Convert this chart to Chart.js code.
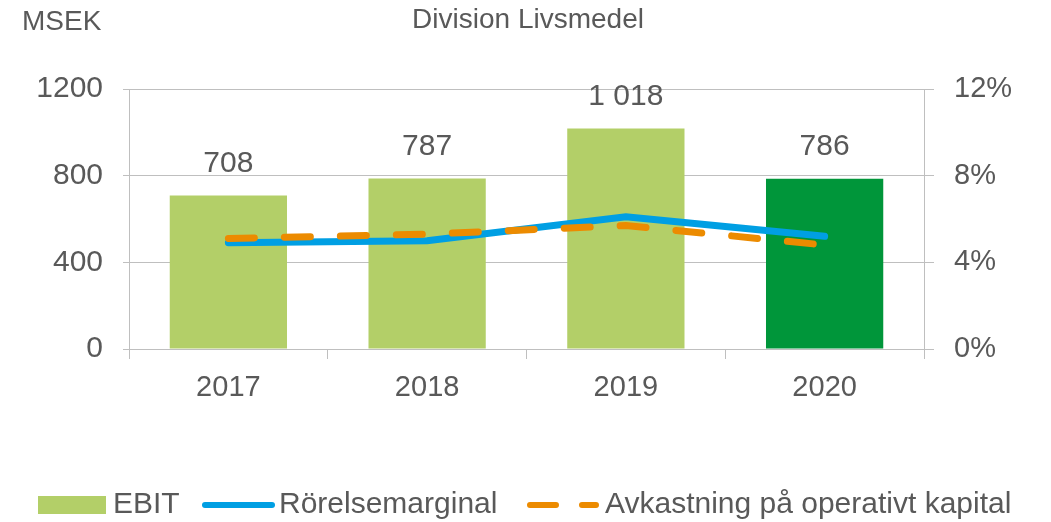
<!DOCTYPE html>
<html>
<head>
<meta charset="utf-8">
<script src="https://cdn.jsdelivr.net/npm/chart.js@4.4.1/dist/chart.umd.min.js"></script>
<style>
    html, body { margin: 0; padding: 0; background: #fff; }
    #wrap { width: 1051px; height: 522px; }
</style>
</head>
<body>
<div id="wrap"><canvas id="chart" width="1051" height="522"></canvas></div>
<script>
const years = ["2017", "2018", "2019", "2020"];
const ebit = [708, 787, 1018, 786];
const rorelsemarginal = [4.9, 5.0, 6.1, 5.2];
const avkastning = [5.1, 5.3, 5.7, 4.8];
const leftTicks = [0, 400, 800, 1200];
const rightTicks = [0, 4, 8, 12];

const textColor = "#595959";
const gridColor = "#bfbfbf";
const lightGreen = "#b3cf68";
const darkGreen = "#00963a";
const blue = "#009fe3";
const orange = "#ec8b00";
const fontFamily = "'Liberation Sans', Arial, sans-serif";

function formatThousands(v) {
    return String(v).replace(/\B(?=(\d{3})+(?!\d))/g, " ");
}

// value labels above the bars (bars are dataset 2)
const barLabels = {
    id: "barLabels",
    afterDatasetsDraw(chart) {
        const ctx = chart.ctx;
        const meta = chart.getDatasetMeta(2);
        ctx.save();
        ctx.font = `30px ${fontFamily}`;
        ctx.fillStyle = textColor;
        ctx.textAlign = "center";
        ctx.textBaseline = "bottom";
        meta.data.forEach((bar, i) => {
            ctx.fillText(formatThousands(ebit[i]), bar.x, bar.y - 17);
        });
        ctx.restore();
    }
};

// title, unit and legend
const decorations = {
    id: "decorations",
    afterDraw(chart) {
        const ctx = chart.ctx;
        ctx.save();
        ctx.fillStyle = textColor;
        ctx.textBaseline = "middle";
        ctx.font = `28px ${fontFamily}`;
        ctx.textAlign = "left";
        ctx.fillText("MSEK", 22, 22);
        ctx.textAlign = "center";
        ctx.fillText("Division Livsmedel", 528, 20);

        const ly = 505;
        ctx.font = `30px ${fontFamily}`;
        ctx.textAlign = "left";
        ctx.fillStyle = lightGreen;
        ctx.fillRect(38, 496, 68, 18);
        ctx.fillStyle = textColor;
        ctx.fillText("EBIT", 113, ly);

        ctx.lineCap = "round";
        ctx.lineWidth = 6;
        ctx.strokeStyle = blue;
        ctx.beginPath();
        ctx.moveTo(205, ly);
        ctx.lineTo(272, ly);
        ctx.stroke();
        ctx.fillText("Rörelsemarginal", 279, ly);

        ctx.strokeStyle = orange;
        ctx.setLineDash([26, 26]);
        ctx.beginPath();
        ctx.moveTo(530, ly);
        ctx.lineTo(596, ly);
        ctx.stroke();
        ctx.setLineDash([]);
        ctx.fillText("Avkastning på operativt kapital", 605, ly);
        ctx.restore();
    }
};

new Chart(document.getElementById("chart"), {
    type: "bar",
    data: {
        labels: years,
        datasets: [
            {
                label: "Avkastning på operativt kapital",
                type: "line",
                data: avkastning,
                yAxisID: "y2",
                borderColor: orange,
                borderWidth: 7,
                borderDash: [26, 30],
                borderCapStyle: "round",
                pointRadius: 0,
                tension: 0,
                order: 0
            },
            {
                label: "Rörelsemarginal",
                type: "line",
                data: rorelsemarginal,
                yAxisID: "y2",
                borderColor: blue,
                borderWidth: 7,
                borderCapStyle: "round",
                pointRadius: 0,
                tension: 0,
                order: 1
            },
            {
                label: "EBIT",
                data: ebit,
                yAxisID: "y",
                backgroundColor: [lightGreen, lightGreen, lightGreen, darkGreen],
                barPercentage: 0.59,
                categoryPercentage: 1,
                order: 2
            }
        ]
    },
    options: {
        responsive: false,
        animation: false,
        devicePixelRatio: 1,
        layout: { padding: { top: 89, bottom: 113, left: 0, right: 0 } },
        plugins: {
            legend: { display: false },
            title: { display: false },
            tooltip: { enabled: false }
        },
        scales: {
            x: {
                grid: {
                    display: true,
                    drawOnChartArea: false,
                    drawTicks: true,
                    tickLength: 10,
                    color: gridColor,
                    offset: true
                },
                border: { color: gridColor },
                ticks: {
                    color: textColor,
                    font: { family: fontFamily, size: 29 },
                    padding: 12
                },
                afterFit: s => { s.height = 60; }
            },
            y: {
                position: "left",
                min: 0,
                max: 1200,
                afterBuildTicks: s => { s.ticks = leftTicks.map(v => ({ value: v })); },
                grid: { color: gridColor, tickLength: 6 },
                border: { color: gridColor },
                ticks: {
                    color: textColor,
                    font: { family: fontFamily, size: 30 },
                    padding: 20,
                    callback: v => String(v)
                },
                afterFit: s => { s.width = 129; }
            },
            y2: {
                position: "right",
                min: 0,
                max: 12,
                afterBuildTicks: s => { s.ticks = rightTicks.map(v => ({ value: v })); },
                grid: { drawOnChartArea: false, color: gridColor, tickLength: 10 },
                border: { color: gridColor },
                ticks: {
                    color: textColor,
                    font: { family: fontFamily, size: 29 },
                    padding: 20,
                    callback: v => v + "%"
                },
                afterFit: s => { s.width = 127; }
            }
        }
    },
    plugins: [barLabels, decorations]
});
</script>
</body>
</html>
